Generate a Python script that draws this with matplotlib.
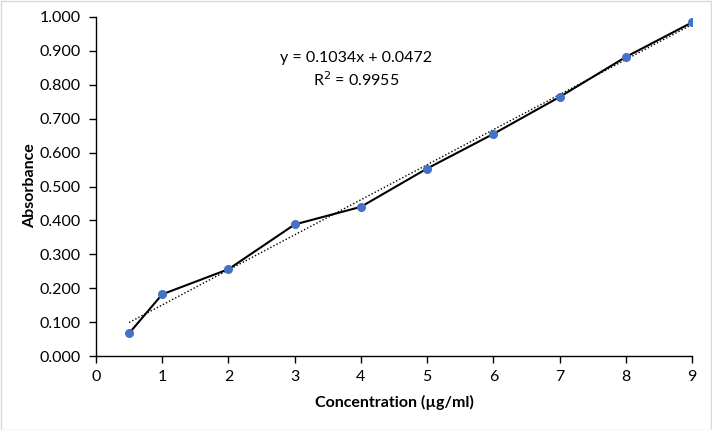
import matplotlib
matplotlib.use("Agg")
import matplotlib.pyplot as plt
import numpy as np
from matplotlib.patches import Rectangle

concentration = [0.5, 1, 2, 3, 4, 5, 6, 7, 8, 9]
absorbance = [0.067, 0.182, 0.256, 0.388, 0.440, 0.553, 0.655, 0.764, 0.882, 0.984]
slope = 0.1034
intercept = 0.0472
r2 = 0.9955
x_ticks = [0, 1, 2, 3, 4, 5, 6, 7, 8, 9]
y_ticks = [0.0, 0.1, 0.2, 0.3, 0.4, 0.5, 0.6, 0.7, 0.8, 0.9, 1.0]

plt.rcParams['font.family'] = ['Lato', 'DejaVu Sans']

fig = plt.figure(figsize=(7.12, 4.30), dpi=100)
W, H = 712, 430
ax = fig.add_axes([96 / W, 1 - 356 / H, (692 - 96) / W, (356 - 17) / H])

fig.patches.append(Rectangle((0.5 / W, 0.5 / H), 1 - 1.5 / W, 1 - 1.5 / H,
                             transform=fig.transFigure, fill=False,
                             edgecolor='#d9d9d9', linewidth=1))

xs = np.array([concentration[0], concentration[-1]])
ax.plot(xs, slope * xs + intercept, linestyle=(0, (1, 1.5)), color='black', linewidth=1.0, zorder=2)
ax.plot(concentration, absorbance, color='black', linewidth=1.5, zorder=3)
ax.plot(concentration, absorbance, linestyle='none', marker='o', markersize=5.5,
        color='#4472C4', zorder=4)

ax.set_xlim(0, 9)
ax.set_ylim(0, 1.0)
ax.set_xticks(x_ticks)
ax.set_yticks(y_ticks)
ax.set_yticklabels([f"{v:.3f}" for v in y_ticks])
ax.tick_params(axis='both', labelsize=11.5, colors='black', length=5, width=1, direction='out')
ax.tick_params(axis='y', pad=6)
ax.tick_params(axis='x', pad=5)
for s in ['top', 'right']:
    ax.spines[s].set_visible(False)
for s in ['left', 'bottom']:
    ax.spines[s].set_color('black')
    ax.spines[s].set_linewidth(1)

ax.text(3.93, 0.878, f"y = {slope}x + {intercept}", ha='center', va='center', fontsize=11.5)
ax.text(3.93, 0.816, f"R$^2$ = {r2}", ha='center', va='center', fontsize=11.5)

fig.text(394 / W, 1 - 402 / H, "Concentration (µg/ml)", ha='center', va='center',
         fontsize=11.5, fontweight='bold')
fig.text(30 / W, 1 - 186 / H, "Absorbance", ha='center', va='center',
         fontsize=11.5, fontweight='bold', rotation=90)

fig.savefig("out.png", dpi=100)
